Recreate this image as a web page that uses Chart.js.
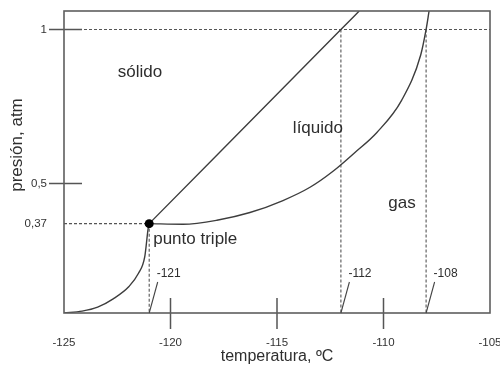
<!DOCTYPE html>
<html>
<head>
<meta charset="utf-8">
<script src="https://cdn.jsdelivr.net/npm/chart.js@4.4.1/dist/chart.umd.min.js"></script>
<style>
  html, body { margin: 0; padding: 0; background: #fff; }
  canvas { display: block; }
</style>
</head>
<body>
<canvas id="phase" width="500" height="371"></canvas>
<script>
// Phase diagram: pressure (atm) against temperature (°C)

const TEMP_TICKS = [-125, -120, -115, -110, -105];
const PRESS_TICKS = [0.37, 0.5, 1];
const PRESS_TICK_MARKS = [0.5, 1];      // pressure ticks drawn with a crossing mark

const TRIPLE_T = -121;                  // triple point
const TRIPLE_P = 0.37;
const MELT_T = -112;                    // solid–liquid line at 1 atm
const BOIL_T = -108;                    // liquid–gas curve at 1 atm
const STD_P = 1;

// solid–gas (sublimation) curve
const subT = [-125, -124.15, -123.42, -122.69, -121.95, -121.51, -121.21, -121.04, -121];
const subP = [0.08, 0.086, 0.099, 0.126, 0.166, 0.208, 0.262, 0.359, 0.37];

// solid–liquid (fusion) line
const fusT = [-121, -112, -111.14];
const fusP = [0.37, 1, 1.06];

// liquid–gas (vaporisation) curve
const vapT = [-121, -119.41, -117.82, -116.27, -114.72, -113.45, -112.37, -111.34, -110.31, -109.15, -108.25, -108, -107.86];
const vapP = [0.37, 0.368, 0.381, 0.406, 0.445, 0.488, 0.540, 0.601, 0.666, 0.770, 0.918, 1, 1.06];

const T_MIN = -125, T_MAX = -105;
const P_MIN = 0.08, P_MAX = 1.06;

const FONT = "'Liberation Sans', Arial, Helvetica, sans-serif";
Chart.defaults.font.family = FONT;

const pts = (xs, ys) => xs.map((t, i) => ({ x: t, y: ys[i] }));

const CURVE = '#3d3d3d';
const DASH = '#555';

const solid = (data) => ({
  data, showLine: true, pointRadius: 0, borderColor: CURVE, borderWidth: 1.4,
  cubicInterpolationMode: 'monotone', fill: false
});
const dashed = (data) => ({
  data, showLine: true, pointRadius: 0, borderColor: DASH, borderWidth: 1.1,
  borderDash: [3, 2], tension: 0, fill: false
});

// text placed in data coordinates
const regionLabels = [
  { text: 'sólido',  t: -121.43, p: 0.862 },
  { text: 'líquido', t: -113.08, p: 0.680 },
  { text: 'gas',     t: -109.13, p: 0.435 }
];

const decorations = {
  id: 'decorations',
  afterDatasetsDraw(chart) {
    const { ctx, chartArea: a, scales: { x, y } } = chart;
    ctx.save();

    // tick marks crossing the axes
    ctx.strokeStyle = '#555';
    ctx.lineWidth = 1.5;
    ctx.beginPath();
    TEMP_TICKS.filter(v => v > T_MIN && v < T_MAX).forEach(v => {
      const px = x.getPixelForValue(v);
      ctx.moveTo(px, a.bottom - 15);
      ctx.lineTo(px, a.bottom + 16);
    });
    PRESS_TICK_MARKS.forEach(v => {
      const py = y.getPixelForValue(v);
      ctx.moveTo(a.left - 15, py);
      ctx.lineTo(a.left + 18, py);
    });
    ctx.stroke();

    // plot frame
    ctx.strokeStyle = '#5e5e5e';
    ctx.lineWidth = 1.6;
    ctx.strokeRect(a.left, a.top, a.right - a.left, a.bottom - a.top);

    // leader lines and temperature call-outs
    ctx.strokeStyle = '#444';
    ctx.lineWidth = 1.1;
    ctx.fillStyle = '#2e2e2e';
    ctx.font = '12px ' + FONT;
    ctx.textAlign = 'left';
    ctx.textBaseline = 'middle';
    [TRIPLE_T, MELT_T, BOIL_T].forEach(v => {
      const px = x.getPixelForValue(v);
      ctx.beginPath();
      ctx.moveTo(px, a.bottom);
      ctx.lineTo(px + 8.5, a.bottom - 31);
      ctx.stroke();
      ctx.fillText(String(v), px + 7.5, a.bottom - 39);
    });

    // region names
    ctx.font = '17px ' + FONT;
    ctx.textAlign = 'center';
    regionLabels.forEach(l => {
      ctx.fillText(l.text, x.getPixelForValue(l.t), y.getPixelForValue(l.p));
    });
    ctx.textAlign = 'left';
    ctx.fillText('punto triple', x.getPixelForValue(TRIPLE_T) + 4, y.getPixelForValue(TRIPLE_P) + 16);

    // axis titles
    ctx.font = '16px ' + FONT;
    ctx.textAlign = 'center';
    ctx.fillText('temperatura, ºC', (a.left + a.right) / 2, 357);
    ctx.save();
    ctx.translate(17, 145);
    ctx.rotate(-Math.PI / 2);
    ctx.font = '17px ' + FONT;
    ctx.fillText('presión, atm', 0, 0);
    ctx.restore();

    ctx.restore();
  }
};

new Chart(document.getElementById('phase'), {
  type: 'line',
  data: {
    datasets: [
      { // triple point
        data: [{ x: TRIPLE_T, y: TRIPLE_P }], showLine: false,
        pointRadius: 4.5, pointBackgroundColor: '#000', pointBorderColor: '#000', pointBorderWidth: 0
      },
      solid(pts(subT, subP)),
      solid(pts(fusT, fusP)),
      solid(pts(vapT, vapP)),
      dashed([{ x: T_MIN, y: STD_P }, { x: T_MAX, y: STD_P }]),
      dashed([{ x: T_MIN, y: TRIPLE_P }, { x: TRIPLE_T, y: TRIPLE_P }]),
      dashed([{ x: TRIPLE_T, y: TRIPLE_P }, { x: TRIPLE_T, y: P_MIN }]),
      dashed([{ x: MELT_T, y: STD_P }, { x: MELT_T, y: P_MIN }]),
      dashed([{ x: BOIL_T, y: STD_P }, { x: BOIL_T, y: P_MIN }])
    ]
  },
  options: {
    responsive: false,
    animation: false,
    devicePixelRatio: 1,
    layout: { padding: { top: 11, right: 10, left: 0, bottom: 0 } },
    plugins: { legend: { display: false }, tooltip: { enabled: false } },
    scales: {
      x: {
        type: 'linear', min: T_MIN, max: T_MAX,
        grid: { display: false }, border: { display: false },
        ticks: { padding: 15, color: '#333', font: { size: 11.5 }, callback: v => String(v) },
        afterBuildTicks: s => { s.ticks = TEMP_TICKS.map(v => ({ value: v })); },
        afterFit: s => { s.height = 58; s.paddingLeft = 0; s.paddingRight = 0; }
      },
      y: {
        type: 'linear', min: P_MIN, max: P_MAX,
        grid: { display: false }, border: { display: false },
        ticks: { padding: 9, color: '#333', font: { size: 11.5 }, callback: v => String(v).replace('.', ',') },
        afterBuildTicks: s => { s.ticks = PRESS_TICKS.map(v => ({ value: v })); },
        afterFit: s => { s.width = 64; s.paddingTop = 0; s.paddingBottom = 0; }
      }
    }
  },
  plugins: [decorations]
});
</script>
</body>
</html>
